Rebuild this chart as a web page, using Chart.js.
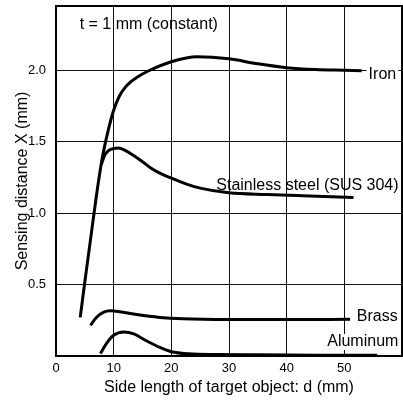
<!DOCTYPE html>
<html>
<head>
<meta charset="utf-8">
<script src="https://cdn.jsdelivr.net/npm/chart.js@4/dist/chart.umd.min.js"></script>
<style>
  body { margin: 0; background: #fff; }
  #wrap { width: 403px; height: 400px; }
</style>
</head>
<body>
<div id="wrap"><canvas id="sensing" width="403" height="400"></canvas></div>
<script>
// side length d (mm) and sensing distance X (mm)
const ironX = [4.2, 5.0, 6.0, 7.0, 8.0, 9.0, 10, 11, 12, 13, 14, 16, 20, 24.5, 30, 35, 40, 45, 50, 53];
const ironY = [0.27, 0.52, 0.82, 1.12, 1.38, 1.57, 1.72, 1.82, 1.88, 1.92, 1.95, 1.995, 2.06, 2.095, 2.08, 2.045, 2.018, 2.005, 2.0, 1.997];

const steelX = [7.85, 8.5, 9.2, 10.0, 10.8, 12, 13.4, 15, 16.3, 18, 20, 22.5, 25, 30, 36.6, 44, 51.6];
const steelY = [1.34, 1.41, 1.44, 1.452, 1.456, 1.44, 1.405, 1.36, 1.32, 1.28, 1.245, 1.205, 1.175, 1.142, 1.13, 1.12, 1.11];

const brassX = [6.0, 7.0, 8.2, 9.4, 11, 14, 18, 22, 30, 40, 51];
const brassY = [0.215, 0.27, 0.305, 0.316, 0.31, 0.29, 0.27, 0.26, 0.255, 0.255, 0.257];

const aluX = [7.7, 8.8, 10, 11.7, 13.5, 15.5, 18, 20, 23, 28, 35, 45, 55.7];
const aluY = [0.017, 0.09, 0.145, 0.168, 0.155, 0.11, 0.06, 0.03, 0.015, 0.01, 0.008, 0.006, 0.005];

const xTicks = [0, 10, 20, 30, 40, 50];
const yTicks = [0.5, 1.0, 1.5, 2.0];

// text written on the plot (data units)
const noteText = ['t = 1 mm (constant)', 'Iron', 'Stainless steel (SUS 304)', 'Brass', 'Aluminum'];
const noteX = [4.1, 56.6, 43.6, 55.7, 53.2];
const noteY = [2.32, 1.97, 1.19, 0.273, 0.098];
const noteAlign = ['left', 'center', 'center', 'center', 'center'];
const noteBg = [false, true, false, true, true];

const FONT = '"Liberation Sans", Arial, Helvetica, sans-serif';

function pts(xs, ys) {
    return xs.map((x, i) => ({ x: x, y: ys[i] }));
}

function curve(xs, ys) {
    return {
        data: pts(xs, ys),
        borderColor: '#000',
        borderWidth: 3,
        pointRadius: 0,
        cubicInterpolationMode: 'monotone',
        fill: false
    };
}

const notes = {
    id: 'notes',
    afterDatasetsDraw(chart) {
        const ctx = chart.ctx;
        const xs = chart.scales.x, ys = chart.scales.y;
        ctx.save();
        ctx.font = '16px ' + FONT;
        ctx.textBaseline = 'middle';
        noteText.forEach((t, i) => {
            const px = xs.getPixelForValue(noteX[i]);
            const py = ys.getPixelForValue(noteY[i]);
            const w = ctx.measureText(t).width;
            const left = noteAlign[i] === 'left' ? px : px - w / 2;
            if (noteBg[i]) {
                ctx.fillStyle = '#fff';
                ctx.fillRect(left - 2, py - 8, w + 4, 16);
            }
            ctx.fillStyle = '#000';
            ctx.textAlign = 'left';
            ctx.fillText(t, left, py);
        });
        ctx.restore();
    },
    afterDraw(chart) {
        const a = chart.chartArea;
        const ctx = chart.ctx;
        ctx.save();
        ctx.strokeStyle = '#000';
        ctx.lineWidth = 2;
        ctx.strokeRect(a.left, a.top, a.right - a.left, a.bottom - a.top);
        ctx.restore();
    }
};

new Chart(document.getElementById('sensing'), {
    type: 'line',
    data: {
        datasets: [
            curve(ironX, ironY),
            curve(steelX, steelY),
            curve(brassX, brassY),
            curve(aluX, aluY)
        ]
    },
    options: {
        responsive: false,
        animation: false,
        layout: { padding: { top: 6, right: 1, left: 0, bottom: 0 } },
        plugins: {
            legend: { display: false },
            tooltip: { enabled: false }
        },
        scales: {
            x: {
                type: 'linear',
                min: 0,
                max: 60,
                afterBuildTicks: s => { s.ticks = xTicks.map(v => ({ value: v })); },
                afterFit: s => { s.height = 44; s.paddingLeft = 0; s.paddingRight = 0; },
                grid: { color: '#111', lineWidth: 1, drawTicks: false },
                border: { display: false },
                ticks: {
                    color: '#000',
                    padding: 5,
                    maxRotation: 0,
                    font: { family: FONT, size: 13 },
                    callback: v => String(v)
                },
                title: {
                    display: true,
                    text: 'Side length of target object: d (mm)',
                    color: '#000',
                    font: { family: FONT, size: 16 },
                    padding: { top: 0, bottom: 3 }
                }
            },
            y: {
                min: 0,
                max: 2.45,
                afterBuildTicks: s => { s.ticks = yTicks.map(v => ({ value: v })); },
                afterFit: s => { s.width = 56; s.paddingTop = 0; s.paddingBottom = 0; },
                grid: { color: '#111', lineWidth: 1, drawTicks: false },
                border: { display: false },
                ticks: {
                    color: '#000',
                    padding: 10,
                    font: { family: FONT, size: 13 },
                    callback: v => v.toFixed(1)
                },
                title: {
                    display: true,
                    text: 'Sensing distance X (mm)',
                    color: '#000',
                    font: { family: FONT, size: 16 },
                    padding: { top: 13, bottom: 0 }
                }
            }
        }
    },
    plugins: [notes]
});
</script>
</body>
</html>
